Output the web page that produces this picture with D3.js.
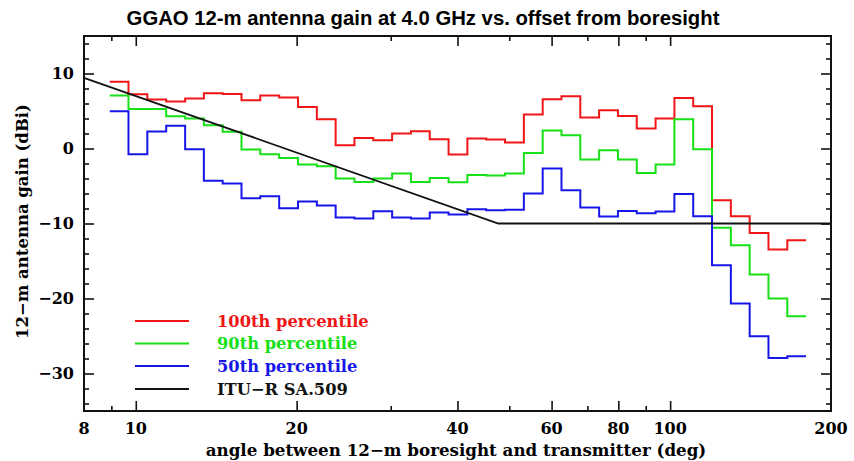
<!DOCTYPE html>
<html>
<head>
<meta charset="utf-8">
<script src="https://cdn.jsdelivr.net/npm/d3@7"></script>
<style>
  body { margin: 0; background: #fff; }
  svg text { font-family: "DejaVu Serif", serif; font-weight: bold; }
  .title { font-family: "Liberation Sans", Arial, sans-serif; }
</style>
</head>
<body>
<div id="chart"></div>
<script>
// bin edges in degrees (log spaced)
const binEdges = [8.94, 9.69, 10.51, 11.40, 12.37, 13.41, 14.54, 15.77, 17.10, 18.55,
  20.12, 21.82, 23.66, 25.66, 27.83, 30.18, 32.73, 35.49, 38.49, 41.74,
  45.27, 49.09, 53.24, 57.74, 62.61, 67.90, 73.64, 79.86, 86.60, 93.92,
  101.85, 110.45, 119.78, 129.90, 140.87, 152.77, 165.67, 179.66];

// gain per bin (dBi)
const p100 = [8.9, 7.24, 6.53, 6.26, 6.66, 7.37, 7.28, 6.44, 7.06, 6.8,
  5.55, 3.9, 0.44, 1.41, 1.11, 2.0, 2.31, 1.24, -0.8, 1.33,
  1.2, 0.8, 4.53, 6.57, 6.97, 4.13, 5.1, 4.35, 2.67, 4.0,
  6.75, 5.64, -6.89, -9.03, -11.25, -13.47, -12.23];
const p90 = [7.06, 5.28, 5.28, 4.3, 4.0, 3.1, 2.22, -0.14, -0.76, -1.25,
  -2.14, -2.36, -4.0, -4.45, -4.0, -3.33, -4.45, -3.92, -4.49, -3.52,
  -3.61, -3.33, -0.6, 2.4, 1.77, -1.47, -0.23, -1.45, -3.25, -2.14,
  3.91, -0.09, -10.58, -12.9, -16.8, -20.0, -22.36];
const p50 = [4.97, -0.76, 2.26, 3.02, -0.09, -4.3, -4.67, -6.63, -6.36, -7.96,
  -7.07, -7.6, -9.2, -9.33, -8.36, -9.2, -9.33, -8.53, -8.8, -8.09,
  -8.22, -8.15, -6.0, -2.67, -5.56, -7.85, -9.08, -8.32, -8.62, -8.4,
  -6.05, -9.03, -15.56, -20.67, -25.03, -27.92, -27.69];

// ITU-R SA.509 reference pattern
const ituAngles = [8, 47.7, 200];
const ituGains = [9.42, -10, -10];

// ticks
const xMajor = [10, 20, 40, 60, 80, 100];
const xMinor = [9, 30, 50, 70, 90];
const xLabels = [8, 10, 20, 40, 60, 80, 100, 200];
const yMajor = [-30, -20, -10, 0, 10];
const yMinor = [-34, -32, -28, -26, -24, -22, -18, -16, -14, -12, -8, -6, -4, -2, 2, 4, 6, 8, 12, 14];

const series = [
  { name: "100th percentile", values: p100, color: "#f01616" },
  { name: "90th percentile", values: p90, color: "#16e016" },
  { name: "50th percentile", values: p50, color: "#1616e8" }
];

const W = 854, H = 461;
const margin = { top: 36, right: 23, bottom: 50, left: 84 };
const width = W - margin.left - margin.right;
const height = H - margin.top - margin.bottom;

const svg = d3.select("#chart").append("svg")
  .attr("width", W).attr("height", H);

const g = svg.append("g")
  .attr("transform", `translate(${margin.left},${margin.top})`);

const x = d3.scaleLog().domain([8, 200]).range([0, width]);
const y = d3.scaleLinear().domain([-35, 15]).range([height, 0]);

// title
svg.append("text")
  .attr("class", "title")
  .attr("x", 423).attr("y", 25)
  .attr("text-anchor", "middle")
  .attr("font-size", "20.3px")
  .text("GGAO 12-m antenna gain at 4.0 GHz vs. offset from boresight");

// ticks on all four sides, pointing in
const axes = [
  [() => d3.axisBottom(x), `translate(0,${height})`, xMajor, xMinor],
  [() => d3.axisTop(x), null, xMajor, xMinor],
  [() => d3.axisLeft(y), null, yMajor, yMinor],
  [() => d3.axisRight(y), `translate(${width},0)`, yMajor, yMinor]
];
axes.forEach(([makeAxis, tr, major, minor]) => {
  [[major, 10], [minor, 5]].forEach(([vals, size]) => {
    const a = g.append("g")
      .call(makeAxis().tickValues(vals).tickSize(-size).tickFormat(""));
    if (tr) a.attr("transform", tr);
    a.select(".domain").remove();
    a.selectAll("line").attr("stroke", "#111").attr("stroke-width", 1.6);
  });
});

// tick labels
g.selectAll(".xlab").data(xLabels).join("text")
  .attr("x", d => x(d)).attr("y", height + 23)
  .attr("text-anchor", "middle")
  .attr("font-size", "16px")
  .text(d => d);

g.selectAll(".ylab").data(yMajor).join("text")
  .attr("x", -10).attr("y", d => y(d) + 5.5)
  .attr("text-anchor", "end")
  .attr("font-size", "16px")
  .text(d => d < 0 ? "\u2212" + Math.abs(d) : d);

// axis titles
svg.append("text")
  .attr("x", 456).attr("y", 456)
  .attr("text-anchor", "middle")
  .attr("font-size", "16.7px")
  .text("angle between 12\u2212m boresight and transmitter (deg)");

svg.append("text")
  .attr("transform", `translate(28,${margin.top + y(-10) - 2}) rotate(-90)`)
  .attr("text-anchor", "middle")
  .attr("font-size", "16.5px")
  .text("12\u2212m antenna gain (dBi)");

// step curves
const line = d3.line()
  .x(d => x(d[0]))
  .y(d => y(d[1]))
  .curve(d3.curveStepAfter);

const plot = g.append("g");

series.forEach(s => {
  const pts = s.values.map((v, i) => [binEdges[i], v]);
  pts.push([binEdges[binEdges.length - 1], s.values[s.values.length - 1]]);
  plot.append("path")
    .datum(pts)
    .attr("fill", "none")
    .attr("stroke", s.color)
    .attr("stroke-width", 2)
    .attr("d", line);
});

// ITU line
const ituLine = d3.line().x(d => x(d[0])).y(d => y(d[1]));
plot.append("path")
  .datum(ituAngles.map((a, i) => [a, ituGains[i]]))
  .attr("fill", "none")
  .attr("stroke", "#111")
  .attr("stroke-width", 1.8)
  .attr("d", ituLine);

// frame
g.append("rect")
  .attr("width", width).attr("height", height)
  .attr("fill", "none")
  .attr("stroke", "#111")
  .attr("stroke-width", 2);

// legend
const legendItems = series.concat([{ name: "ITU\u2212R SA.509", color: "#111" }]);
const legendY = [321, 343.5, 366, 389];
const legend = svg.append("g");
legendItems.forEach((d, i) => {
  legend.append("line")
    .attr("x1", 135).attr("x2", 189)
    .attr("y1", legendY[i]).attr("y2", legendY[i])
    .attr("stroke", d.color).attr("stroke-width", 1.8);
  legend.append("text")
    .attr("x", 217).attr("y", legendY[i] + 5.5)
    .attr("font-size", "16.3px")
    .attr("fill", d.color)
    .text(d.name);
});
</script>
</body>
</html>
